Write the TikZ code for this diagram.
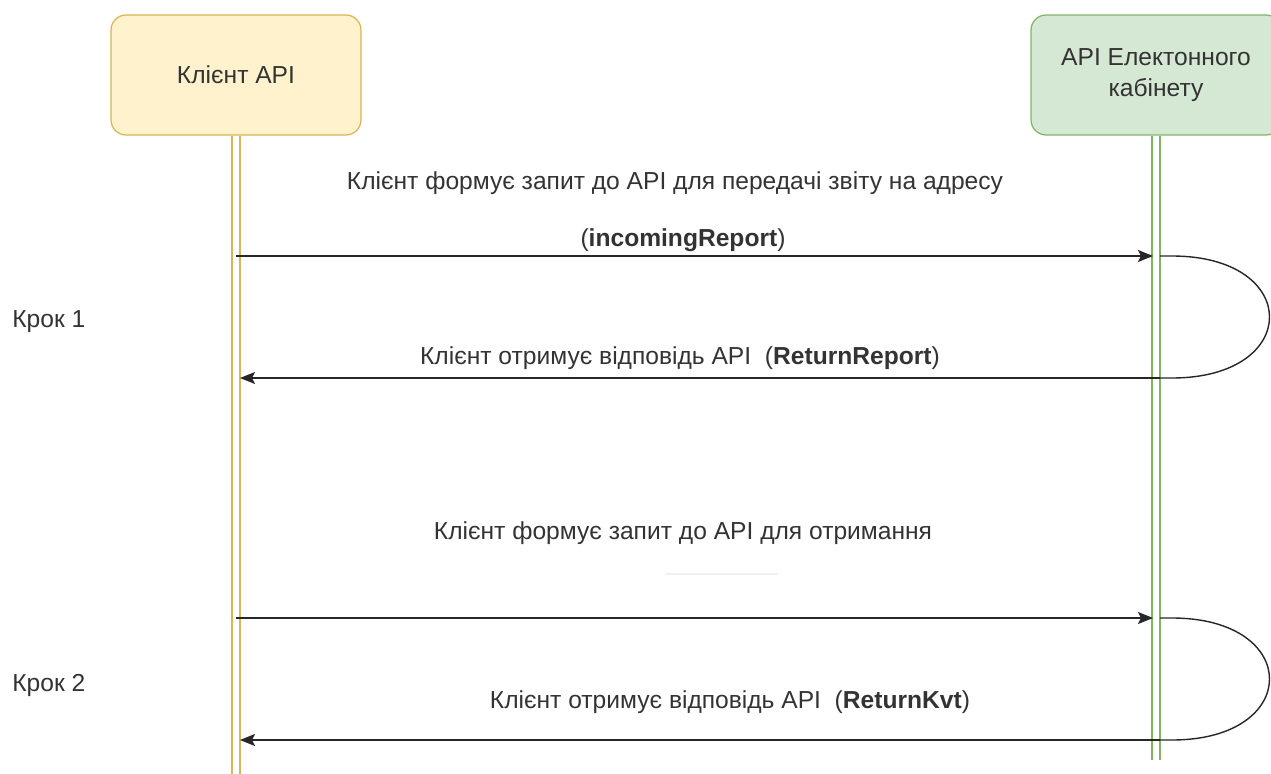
\documentclass[tikz,border=0pt]{standalone}
\usepackage{fontspec}
\setmainfont{Liberation Sans}
\usetikzlibrary{arrows.meta}
\definecolor{clientfill}{HTML}{FFF2CC}
\definecolor{clientline}{HTML}{D6B656}
\definecolor{apifill}{HTML}{D5E8D4}
\definecolor{apiline}{HTML}{82B366}
\definecolor{txt}{HTML}{333333}
\begin{document}
\begin{tikzpicture}[x=0.02cm,y=-0.02cm,>={Stealth[length=0.3cm,width=0.24cm,inset=0.06cm]},
  actor/.style={draw, rounded corners=0.3cm, minimum width=5cm, minimum height=2.4cm,
    align=center, text=txt, font=\fontsize{14}{18}\selectfont, line width=0.7pt},
  life/.style={double=white, double distance=0.115cm, line width=1.1pt},
  msg/.style={->, line width=0.8pt, black!85},
  lbl/.style={text=txt, font=\fontsize{14}{17}\selectfont, inner sep=0pt}]
\useasboundingbox (0,0) rectangle (1271,774);
% The actors
\node[actor, fill=clientfill, draw=clientline] (client) at (236,75) {Клієнт API};
\node[actor, fill=apifill, draw=apiline] (api) at (1156,75) {API Електонного\\кабінету};
\coordinate (clientEnd) at (236,774);
\coordinate (apiEnd) at (1156,760);

% The lifelines
\draw[life, draw=clientline] (client.south) -- (clientEnd);
\draw[life, draw=apiline] (api.south) -- (apiEnd);

% The messages of both steps
\foreach \n/\ya/\yb in {1/256/378, 2/618/740} {
  \coordinate (send\n) at (236,\ya);
  \coordinate (recv\n) at (1153,\ya);
  \coordinate (out\n) at (1160,\ya);
  \coordinate (back\n) at (1160,\yb);
  \coordinate (got\n) at (240,\yb);
  \draw[msg] (send\n) -- (recv\n);
  \draw[line width=0.8pt, black!85] (out\n) -- ++(12,0)
    .. controls (1302,\ya) and (1302,\yb) .. (1172,\yb) -- (back\n);
  \draw[msg] (back\n) -- (got\n);
}

% The labels
\node[lbl] (ask1) at (675,183) {Клієнт формує запит до API для передачі звіту на адресу};
\node[lbl] (key1) at (683,240) {(\textbf{incomingReport})};
\node[lbl] (ans1) at (680,358) {Клієнт отримує відповідь API\ \ (\textbf{ReturnReport})};
\node[lbl, anchor=west] (step1) at (12,322) {Крок 1};
\node[lbl] (ask2) at (683,533) {Клієнт формує запит до API для отримання};
\draw[black!6, line width=0.6pt] (665,574) -- (778,574);
\node[lbl, anchor=west] (step2) at (12,685) {Крок 2};
\node[lbl] (ans2) at (730,702) {Клієнт отримує відповідь API\ \ (\textbf{ReturnKvt})};
\end{tikzpicture}
\end{document}
